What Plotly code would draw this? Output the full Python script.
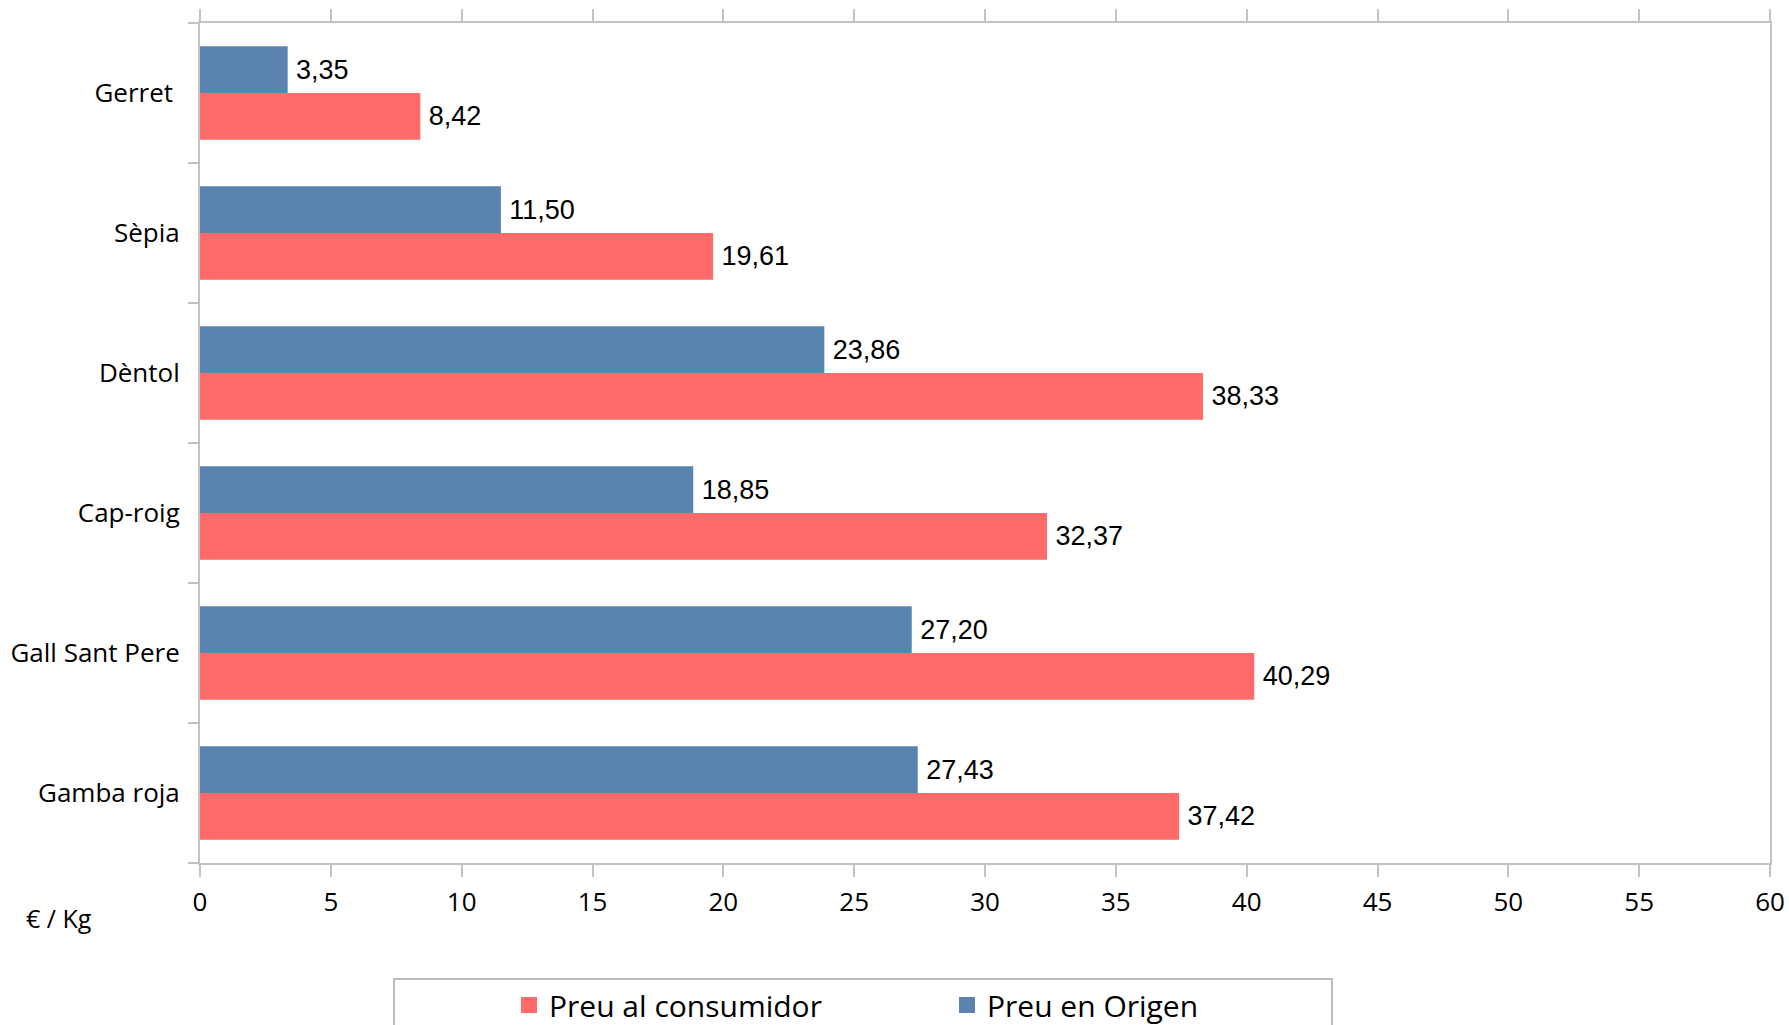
import plotly.graph_objects as go

categories = ["Gerret\u00a0", "Sèpia", "Dèntol", "Cap-roig", "Gall Sant Pere", "Gamba roja"]
preu_origen = [3.35, 11.50, 23.86, 18.85, 27.20, 27.43]
preu_consumidor = [8.42, 19.61, 38.33, 32.37, 40.29, 37.42]
x_ticks = list(range(0, 61, 5))

BLUE = "#5a83b0"
RED = "#ff6b6b"
AXIS = "#c3c3c3"

def fmt(v):
    return "\u2009" + f"{v:.2f}".replace(".", ",")

fig = go.Figure()
fig.add_trace(go.Bar(
    y=categories, x=preu_consumidor, orientation="h", name="Preu al consumidor",
    marker=dict(color=RED, line=dict(width=0)),
    text=[fmt(v) for v in preu_consumidor], textposition="outside",
    textfont=dict(family="Liberation Sans", size=27, color="#000000"),
    cliponaxis=False, showlegend=False,
))
fig.add_trace(go.Bar(
    y=categories, x=preu_origen, orientation="h", name="Preu en Origen",
    marker=dict(color=BLUE, line=dict(width=0)),
    text=[fmt(v) for v in preu_origen], textposition="outside",
    textfont=dict(family="Liberation Sans", size=27, color="#000000"),
    cliponaxis=False, showlegend=False,
))
# legend entries with larger square swatches
for name, color in [("Preu al consumidor", RED), ("Preu en Origen", BLUE)]:
    fig.add_trace(go.Scatter(
        x=[None], y=[None], mode="markers", name=name,
        marker=dict(symbol="square", size=16, color=color, line=dict(width=0)),
        showlegend=True, hoverinfo="skip",
    ))

W, H = 1789, 1025
ml, mr, mt, mb = 200, 19, 23, 162
pw, ph = W - ml - mr, H - mt - mb

def px(x):
    return (x - ml) / pw

def py(y):
    return (H - mb - y) / ph

fig.update_layout(
    width=W, height=H,
    margin=dict(l=ml, r=mr, t=mt, b=mb, autoexpand=False),
    paper_bgcolor="white", plot_bgcolor="white",
    barmode="group", bargap=1/3, bargroupgap=0,
    font=dict(family="Open Sans", size=26, color="#000000"),
    showlegend=True,
    legend=dict(
        orientation="h", x=px(509), xanchor="left", y=py(1005), yanchor="middle",
        font=dict(family="Open Sans", size=30, color="#000000"),
        entrywidth=393, entrywidthmode="pixels", itemwidth=30,
        bgcolor="rgba(0,0,0,0)", borderwidth=0,
    ),
    xaxis=dict(
        range=[0, 60], tickvals=x_ticks, ticktext=[str(t) for t in x_ticks],
        showgrid=False, zeroline=False,
        showline=True, linecolor=AXIS, linewidth=2, mirror="ticks",
        ticks="outside", ticklen=12, tickcolor=AXIS, tickwidth=2,
        tickfont=dict(family="Open Sans", size=26), ticklabelstandoff=3,
    ),
    yaxis=dict(
        categoryorder="array", categoryarray=categories[::-1],
        showgrid=False, zeroline=False,
        showline=True, linecolor=AXIS, linewidth=2, mirror=True,
        ticks="outside", ticklen=10, tickcolor=AXIS, tickwidth=2,
        tickson="boundaries",
        tickfont=dict(family="Open Sans", size=26), ticklabelstandoff=13,
    ),
    shapes=[dict(
        type="rect", xref="paper", yref="paper",
        x0=px(394), x1=px(1332), y0=py(979), y1=py(1060),
        line=dict(color="#a6a6a6", width=1.5), fillcolor="rgba(0,0,0,0)", layer="below",
    )],
    annotations=[dict(
        text="€ / Kg", xref="paper", yref="paper", x=px(59), y=py(918),
        xanchor="center", yanchor="middle", showarrow=False,
        font=dict(family="Open Sans", size=25, color="#000000"),
    )],
)

fig.write_html(
    "out.html",
    config={"displayModeBar": False},
    post_script="document.body.style.margin='0px';document.body.style.overflow='hidden';",
)
